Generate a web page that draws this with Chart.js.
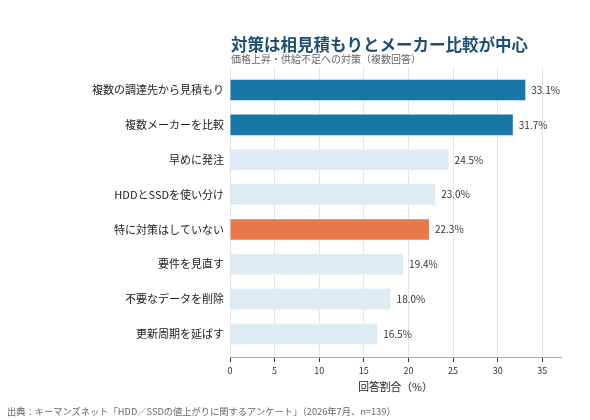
<!DOCTYPE html>
<html lang="ja">
<head>
<meta charset="utf-8">
<script src="https://cdn.jsdelivr.net/npm/chart.js@4"></script>
<style>
  html, body { margin: 0; padding: 0; background: #fff; }
  #wrap { position: relative; width: 590px; height: 420px; font-family: "Noto Sans CJK JP", sans-serif; }
  #chart { position: absolute; left: 0; top: 0; }
  .title { position: absolute; left: 231px; top: 34px; font-size: 16.5px; font-weight: bold; color: #1d4f73; line-height: 20px; white-space: nowrap; }
  .subtitle { position: absolute; left: 231px; top: 51.5px; font-size: 10px; color: #666; line-height: 14px; white-space: nowrap; }
  .source { position: absolute; left: 7px; top: 404px; font-size: 9.25px; color: #666; line-height: 14px; white-space: nowrap; }
</style>
</head>
<body>
<div id="wrap">
  <canvas id="chart" width="590" height="420"></canvas>
  <div class="title">対策は相見積もりとメーカー比較が中心</div>
  <div class="subtitle">価格上昇・供給不足への対策（複数回答）</div>
  <div class="source">出典：キーマンズネット「HDD／SSDの値上がりに関するアンケート」（2026年7月、n=139）</div>
</div>
<script>
// データ
const categories = [
    '複数の調達先から見積もり',
    '複数メーカーを比較',
    '早めに発注',
    'HDDとSSDを使い分け',
    '特に対策はしていない',
    '要件を見直す',
    '不要なデータを削除',
    '更新周期を延ばす'
];
const shares = [33.1, 31.7, 24.5, 23.0, 22.3, 19.4, 18.0, 16.5];
const xTicks = [0, 5, 10, 15, 20, 25, 30, 35];

const FONT = '"Noto Sans CJK JP", sans-serif';

// 色分け：上位2項目は濃い青、「対策なし」はオレンジ、他は薄い青
function barColor(label, i) {
    if (i < 2) return '#1877a8';
    if (label === '特に対策はしていない') return '#e8784a';
    return '#ddebf3';
}

// 棒の右に値ラベルを描く
const valueLabels = {
    id: 'valueLabels',
    afterDatasetsDraw(chart) {
        const ctx = chart.ctx;
        const meta = chart.getDatasetMeta(0);
        ctx.save();
        ctx.font = '10px ' + FONT;
        ctx.fillStyle = '#333';
        ctx.textAlign = 'left';
        ctx.textBaseline = 'middle';
        meta.data.forEach((bar, i) => {
            ctx.fillText(shares[i].toFixed(1) + '%', bar.x + 6, bar.y);
        });
        ctx.restore();
    }
};

new Chart(document.getElementById('chart'), {
    type: 'bar',
    data: {
        datasets: [{
            data: shares.map((v, i) => ({ x: v, y: i })),
            backgroundColor: categories.map(barColor),
            barPercentage: 0.59,
            categoryPercentage: 1
        }]
    },
    options: {
        indexAxis: 'y',
        responsive: false,
        animation: false,
        layout: { padding: { left: 0, right: 29, top: 67, bottom: 23 } },
        plugins: {
            legend: { display: false },
            tooltip: { enabled: false }
        },
        scales: {
            x: {
                type: 'linear',
                min: 0,
                max: 37.1,
                afterBuildTicks: (scale) => {
                    scale.ticks = xTicks.map(v => ({ value: v }));
                },
                afterFit: (scale) => { scale.height = 40; },
                grid: {
                    color: '#e6e6e6',
                    tickColor: '#333',
                    tickLength: 5
                },
                border: { color: '#aaa', width: 1 },
                ticks: {
                    color: '#333',
                    padding: 3,
                    maxRotation: 0,
                    font: { family: FONT, size: 9 }
                },
                title: {
                    display: true,
                    text: '回答割合（%）',
                    color: '#222',
                    padding: { top: 2, bottom: 3.5 },
                    font: { family: FONT, size: 10.8 }
                }
            },
            y: {
                type: 'linear',
                reverse: true,
                offset: false,
                min: -0.66,
                max: 7.66,
                afterBuildTicks: (scale) => {
                    scale.ticks = categories.map((c, i) => ({ value: i }));
                },
                afterFit: (scale) => { scale.width = 230; },
                grid: { display: false, drawTicks: false },
                border: { display: false },
                ticks: {
                    color: '#222',
                    padding: 6,
                    autoSkip: false,
                    callback: (v) => categories[v],
                    font: { family: FONT, size: 11 }
                }
            }
        }
    },
    plugins: [valueLabels]
});
</script>
</body>
</html>
